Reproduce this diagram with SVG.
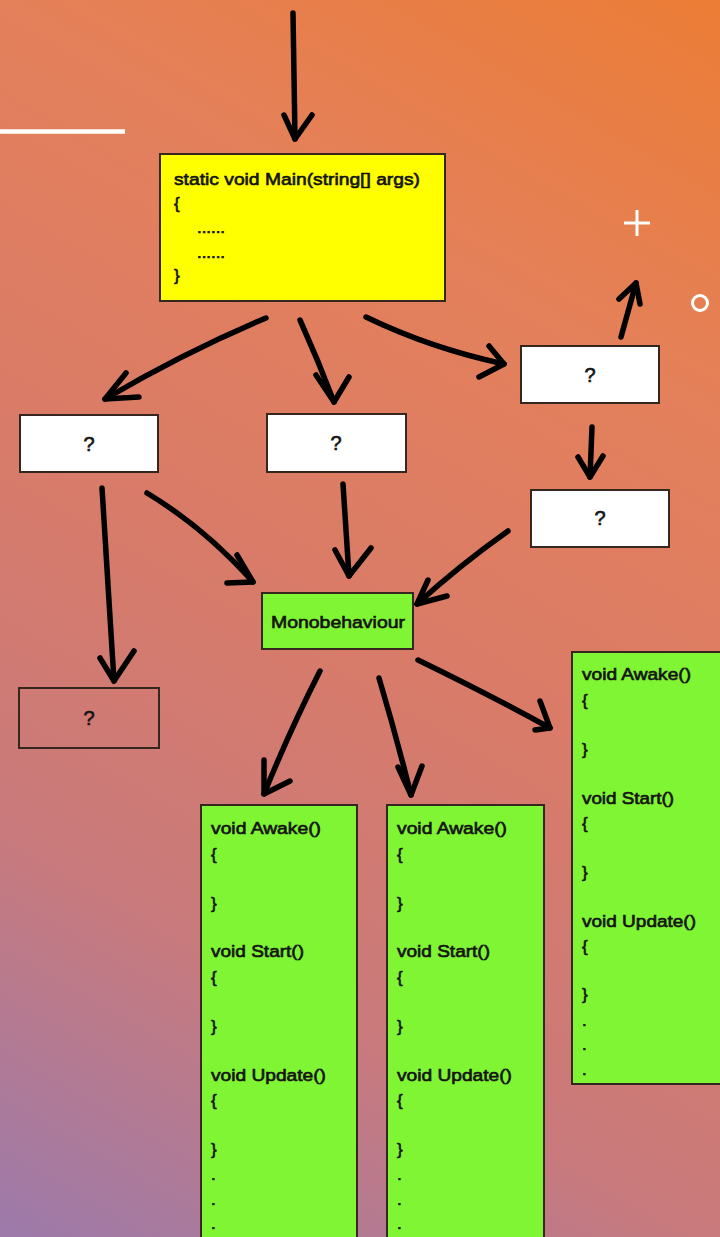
<svg xmlns="http://www.w3.org/2000/svg" width="720" height="1237" viewBox="0 0 720 1237">
  <defs>
    <linearGradient id="bg" gradientUnits="userSpaceOnUse" x1="720" y1="0" x2="0" y2="1237">
      <stop offset="0" stop-color="#ec7d36"/>
      <stop offset="0.25" stop-color="#e4805a"/>
      <stop offset="0.5" stop-color="#d97b68"/>
      <stop offset="0.75" stop-color="#c97a7c"/>
      <stop offset="1" stop-color="#9c7aab"/>
    </linearGradient>
    <style>
      .box { stroke: #35261f; stroke-width: 2; }
      .white { fill: #ffffff; }
      .yellow { fill: #ffff00; }
      .green { fill: #80f533; }
      .clear { fill: none; }
      .t { font-family: "Liberation Sans", Arial, sans-serif; fill: #141414; stroke: #141414; stroke-width: 0.65; }
      .code { font-size: 17px; }
      .q { font-size: 20px; text-anchor: middle; }
      .arr { fill: none; stroke: #000; stroke-width: 5.5; stroke-linecap: round; stroke-linejoin: round; }
      .deco { fill: none; stroke: #ffffff; stroke-linecap: butt; }
    </style>
  </defs>

  <rect x="0" y="0" width="720" height="1237" fill="url(#bg)"/>

  <!-- decorations -->
  <g id="decorations">
    <line class="deco" x1="0" y1="131.5" x2="125" y2="131.5" stroke-width="4.5"/>
    <line class="deco" x1="624" y1="223" x2="650" y2="223" stroke-width="3"/>
    <line class="deco" x1="637" y1="210" x2="637" y2="236" stroke-width="3"/>
    <circle class="deco" cx="700" cy="303" r="7.5" stroke-width="3"/>
  </g>

  <!-- connectors -->
  <g id="connectors">
    <path class="arr" d="M293,13 L295,139"/>
    <polyline class="arr" points="284,115 295,139 312,115"/>
    <path class="arr" d="M266,318 Q185,352 105,399"/>
    <polyline class="arr" points="126,373 105,399 139,397"/>
    <path class="arr" d="M300,320 Q318,360 334,402"/>
    <polyline class="arr" points="316,375 334,402 349,377"/>
    <path class="arr" d="M366,317 Q430,348 504,364"/>
    <polyline class="arr" points="489,346 504,364 479,377"/>
    <path class="arr" d="M621,337 L636,283"/>
    <polyline class="arr" points="619,299 636,283 640,304"/>
    <path class="arr" d="M592,427 L590,477"/>
    <polyline class="arr" points="578,457 590,477 603,456"/>
    <path class="arr" d="M102,488 L114,681"/>
    <polyline class="arr" points="100,658 114,681 134,651"/>
    <path class="arr" d="M147,493 Q205,528 253,582"/>
    <polyline class="arr" points="237,555 253,582 227,583"/>
    <path class="arr" d="M343,484 L349,576"/>
    <polyline class="arr" points="335,550 349,576 371,548"/>
    <path class="arr" d="M508,531 Q460,565 417,604"/>
    <polyline class="arr" points="428,580 417,604 447,596"/>
    <path class="arr" d="M320,671 Q290,730 264,794"/>
    <polyline class="arr" points="264,760 264,794 290,781"/>
    <path class="arr" d="M379,678 Q396,735 411,795"/>
    <polyline class="arr" points="398,767 411,795 422,766"/>
    <path class="arr" d="M418,660 Q490,695 550,728"/>
    <polyline class="arr" points="540,701 550,728 535,730"/>
  </g>

  <!-- nodes -->
  <g id="node-main">
    <rect class="box yellow" x="160" y="154" width="285" height="147"/>
    <text class="t code" x="174" y="185" textLength="246" lengthAdjust="spacingAndGlyphs">static void Main(string[] args)</text>
    <text class="t code" x="174" y="209">{</text>
    <text class="t" x="197" y="233" font-size="14" textLength="28" lengthAdjust="spacingAndGlyphs">......</text>
    <text class="t" x="197" y="258" font-size="14" textLength="28" lengthAdjust="spacingAndGlyphs">......</text>
    <text class="t code" x="174" y="281">}</text>
  </g>

  <g id="node-q-left">
    <rect class="box white" x="20" y="415" width="138" height="57"/>
    <text class="t q" x="89" y="451">?</text>
  </g>
  <g id="node-q-middle">
    <rect class="box white" x="267" y="414" width="139" height="58"/>
    <text class="t q" x="336" y="450">?</text>
  </g>
  <g id="node-q-right-top">
    <rect class="box white" x="521" y="346" width="138" height="57"/>
    <text class="t q" x="590" y="382">?</text>
  </g>
  <g id="node-q-right-2">
    <rect class="box white" x="531" y="490" width="138" height="57"/>
    <text class="t q" x="600" y="525">?</text>
  </g>
  <g id="node-q-bottom-left">
    <rect class="box clear" x="19" y="688" width="140" height="60"/>
    <text class="t q" x="89" y="725">?</text>
  </g>

  <g id="node-mono">
    <rect class="box green" x="262" y="593" width="151" height="56"/>
    <text class="t code" x="271" y="628" textLength="134" lengthAdjust="spacingAndGlyphs">Monobehaviour</text>
  </g>

  <g id="node-script-a">
    <rect class="box green" x="201" y="805" width="156" height="440"/>
    <text class="t code" x="211" y="834" textLength="110" lengthAdjust="spacingAndGlyphs">void Awake()</text>
    <text class="t code" x="211" y="860">{</text>
    <text class="t code" x="211" y="909">}</text>
    <text class="t code" x="211" y="957" textLength="93" lengthAdjust="spacingAndGlyphs">void Start()</text>
    <text class="t code" x="211" y="983">{</text>
    <text class="t code" x="211" y="1032">}</text>
    <text class="t code" x="211" y="1081" textLength="115" lengthAdjust="spacingAndGlyphs">void Update()</text>
    <text class="t code" x="211" y="1106">{</text>
    <text class="t code" x="211" y="1155">}</text>
    <text class="t code" x="211" y="1180">.</text>
    <text class="t code" x="211" y="1205">.</text>
    <text class="t code" x="211" y="1229">.</text>
  </g>

  <g id="node-script-b">
    <rect class="box green" x="387" y="805" width="157" height="440"/>
    <text class="t code" x="397" y="834" textLength="110" lengthAdjust="spacingAndGlyphs">void Awake()</text>
    <text class="t code" x="397" y="860">{</text>
    <text class="t code" x="397" y="909">}</text>
    <text class="t code" x="397" y="957" textLength="93" lengthAdjust="spacingAndGlyphs">void Start()</text>
    <text class="t code" x="397" y="983">{</text>
    <text class="t code" x="397" y="1032">}</text>
    <text class="t code" x="397" y="1081" textLength="115" lengthAdjust="spacingAndGlyphs">void Update()</text>
    <text class="t code" x="397" y="1106">{</text>
    <text class="t code" x="397" y="1155">}</text>
    <text class="t code" x="397" y="1180">.</text>
    <text class="t code" x="397" y="1205">.</text>
    <text class="t code" x="397" y="1229">.</text>
  </g>

  <g id="node-script-c">
    <rect class="box green" x="572" y="652" width="156" height="432"/>
    <text class="t code" x="582" y="680" textLength="109" lengthAdjust="spacingAndGlyphs">void Awake()</text>
    <text class="t code" x="582" y="706">{</text>
    <text class="t code" x="582" y="755">}</text>
    <text class="t code" x="582" y="804" textLength="92" lengthAdjust="spacingAndGlyphs">void Start()</text>
    <text class="t code" x="582" y="829">{</text>
    <text class="t code" x="582" y="878">}</text>
    <text class="t code" x="582" y="927" textLength="114" lengthAdjust="spacingAndGlyphs">void Update()</text>
    <text class="t code" x="582" y="952">{</text>
    <text class="t code" x="582" y="1000">}</text>
    <text class="t code" x="582" y="1026">.</text>
    <text class="t code" x="582" y="1050">.</text>
    <text class="t code" x="582" y="1075">.</text>
  </g>
</svg>
